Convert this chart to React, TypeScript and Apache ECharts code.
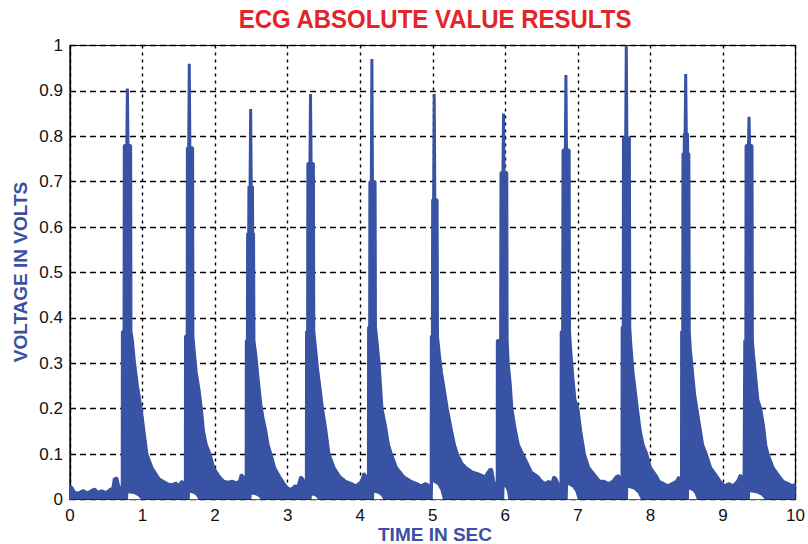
import React, { useEffect, useRef } from "react";
import * as echarts from "echarts";

// ---- data (time in s, |voltage| in V) ----
const xTicks = [0, 1, 2, 3, 4, 5, 6, 7, 8, 9, 10];
const yTicks = [0, 0.1, 0.2, 0.3, 0.4, 0.5, 0.6, 0.7, 0.8, 0.9, 1];

const lead0: [number, number][] = [
  [0, 0.03], [0.03, 0.025], [0.06, 0.016], [0.12, 0.014], [0.18, 0.02], [0.24, 0.014],
  [0.3, 0.02], [0.34, 0.023], [0.38, 0.016], [0.44, 0.019], [0.5, 0.015], [0.55, 0.022],
  [0.59, 0.025], [0.61, 0.045], [0.645, 0.048], [0.67, 0.03], [0.7, 0.022],
];
const beat1: [number, number][] = [
  [0.72, 0.022], [0.722, 0.37], [0.745, 0.37], [0.748, 0.78], [0.783, 0.78], [0.791, 0.905],
  [0.799, 0.78], [0.836, 0.78], [0.84, 0.37], [0.86, 0.35], [0.89, 0.3], [0.93, 0.25],
  [0.98, 0.2], [1.02, 0.15], [1.06, 0.1], [1.13, 0.07], [1.23, 0.045], [1.34, 0.035],
];
const gap1: [number, number][] = [
  [1.4, 0.032], [1.46, 0.036], [1.5, 0.03], [1.54, 0.04], [1.57, 0.035],
];
const beat2: [number, number][] = [
  [1.59, 0.035], [1.592, 0.36], [1.615, 0.36], [1.618, 0.775], [1.636, 0.775], [1.644, 0.96],
  [1.652, 0.775], [1.69, 0.775], [1.694, 0.36], [1.71, 0.33], [1.74, 0.28], [1.78, 0.24],
  [1.81, 0.2], [1.84, 0.15], [1.88, 0.12], [1.93, 0.1], [1.98, 0.07], [2.06, 0.05], [2.12, 0.04],
];
const gap2: [number, number][] = [
  [2.18, 0.038], [2.24, 0.04], [2.3, 0.036], [2.34, 0.042], [2.36, 0.055], [2.39, 0.05], [2.41, 0.035],
];
const beat3: [number, number][] = [
  [2.428, 0.035], [2.43, 0.35], [2.445, 0.35], [2.448, 0.586], [2.463, 0.586], [2.466, 0.69],
  [2.482, 0.69], [2.49, 0.86], [2.498, 0.69], [2.515, 0.69], [2.518, 0.586], [2.53, 0.586],
  [2.535, 0.35], [2.56, 0.32], [2.59, 0.27], [2.63, 0.21], [2.66, 0.18], [2.7, 0.15],
  [2.73, 0.12], [2.77, 0.1], [2.82, 0.07], [2.89, 0.05], [2.95, 0.035],
];
const gap3: [number, number][] = [
  [3.0, 0.025], [3.05, 0.022], [3.1, 0.03], [3.14, 0.028], [3.18, 0.05], [3.21, 0.045], [3.24, 0.03],
];
const beat4: [number, number][] = [
  [3.258, 0.03], [3.26, 0.37], [3.275, 0.37], [3.278, 0.74], [3.307, 0.74], [3.315, 0.893],
  [3.323, 0.74], [3.355, 0.74], [3.36, 0.37], [3.38, 0.34], [3.41, 0.29], [3.45, 0.24],
  [3.48, 0.2], [3.52, 0.16], [3.57, 0.1], [3.64, 0.07], [3.72, 0.05], [3.8, 0.04],
];
const gap4: [number, number][] = [
  [3.88, 0.035], [3.94, 0.03], [3.98, 0.035], [4.02, 0.04], [4.05, 0.058], [4.08, 0.05], [4.095, 0.04],
];
const beat5: [number, number][] = [
  [4.113, 0.04], [4.115, 0.38], [4.13, 0.38], [4.133, 0.7], [4.153, 0.7], [4.161, 0.97],
  [4.169, 0.7], [4.205, 0.7], [4.21, 0.38], [4.23, 0.35], [4.26, 0.3], [4.28, 0.25],
  [4.3, 0.2], [4.35, 0.16], [4.39, 0.12], [4.43, 0.1], [4.5, 0.07], [4.6, 0.05], [4.7, 0.04],
];
const gap5: [number, number][] = [
  [4.78, 0.035], [4.84, 0.03], [4.9, 0.035], [4.95, 0.03],
];
const beat6: [number, number][] = [
  [4.978, 0.03], [4.98, 0.36], [4.995, 0.36], [4.998, 0.66], [5.012, 0.66], [5.02, 0.893],
  [5.028, 0.66], [5.06, 0.66], [5.065, 0.36], [5.09, 0.32], [5.12, 0.28], [5.16, 0.24],
  [5.2, 0.2], [5.26, 0.15], [5.3, 0.12], [5.34, 0.1], [5.4, 0.08],
];
const gap6: [number, number][] = [
  [5.46, 0.07], [5.55, 0.06], [5.65, 0.055], [5.72, 0.05], [5.78, 0.065], [5.81, 0.067],
  [5.84, 0.04], [5.87, 0.03],
];
const beat7: [number, number][] = [
  [5.888, 0.03], [5.89, 0.35], [5.935, 0.35], [5.94, 0.72], [5.967, 0.72], [5.975, 0.85],
  [5.983, 0.72], [6.02, 0.72], [6.025, 0.35], [6.04, 0.3], [6.07, 0.25], [6.09, 0.2],
  [6.13, 0.16], [6.18, 0.12], [6.24, 0.1], [6.3, 0.08], [6.36, 0.06], [6.45, 0.05], [6.5, 0.04],
];
const gap7: [number, number][] = [
  [6.55, 0.035], [6.6, 0.04], [6.64, 0.035], [6.67, 0.05], [6.7, 0.045], [6.74, 0.03],
];
const beat8: [number, number][] = [
  [6.768, 0.03], [6.77, 0.37], [6.79, 0.37], [6.795, 0.77], [6.827, 0.77], [6.835, 0.935],
  [6.843, 0.77], [6.88, 0.77], [6.885, 0.37], [6.9, 0.33], [6.93, 0.27], [6.96, 0.22],
  [7.0, 0.2], [7.04, 0.15], [7.07, 0.12], [7.09, 0.1], [7.15, 0.07], [7.25, 0.05], [7.3, 0.04],
];
const gap8: [number, number][] = [
  [7.36, 0.04], [7.42, 0.035], [7.48, 0.04], [7.53, 0.05], [7.56, 0.053], [7.59, 0.035],
];
const beat9: [number, number][] = [
  [7.608, 0.035], [7.61, 0.38], [7.625, 0.38], [7.628, 0.797], [7.659, 0.797], [7.667, 1.0],
  [7.675, 0.797], [7.71, 0.797], [7.715, 0.38], [7.73, 0.34], [7.76, 0.28], [7.79, 0.24],
  [7.82, 0.2], [7.86, 0.15], [7.9, 0.12], [7.95, 0.1], [8.0, 0.07], [8.09, 0.05], [8.12, 0.04],
];
const gap9: [number, number][] = [
  [8.18, 0.035], [8.24, 0.03], [8.3, 0.035], [8.36, 0.04], [8.39, 0.05], [8.41, 0.035],
];
const beat10: [number, number][] = [
  [8.428, 0.035], [8.43, 0.37], [8.445, 0.37], [8.448, 0.762], [8.465, 0.762], [8.468, 0.806],
  [8.478, 0.806], [8.486, 0.937], [8.494, 0.806], [8.51, 0.806], [8.513, 0.762], [8.53, 0.762],
  [8.535, 0.37], [8.55, 0.33], [8.58, 0.28], [8.61, 0.23], [8.64, 0.2], [8.68, 0.16],
  [8.72, 0.12], [8.77, 0.1], [8.83, 0.07], [8.92, 0.05], [8.96, 0.04],
];
const gap10: [number, number][] = [
  [9.02, 0.03], [9.08, 0.035], [9.14, 0.03], [9.2, 0.04], [9.24, 0.054], [9.27, 0.045], [9.29, 0.035],
];
const beat11: [number, number][] = [
  [9.298, 0.035], [9.3, 0.35], [9.315, 0.35], [9.318, 0.78], [9.351, 0.78], [9.359, 0.843],
  [9.367, 0.78], [9.4, 0.78], [9.405, 0.35], [9.42, 0.32], [9.45, 0.27], [9.48, 0.22],
  [9.52, 0.2], [9.56, 0.16], [9.59, 0.12], [9.62, 0.1], [9.69, 0.07], [9.78, 0.05], [9.83, 0.04],
];
const tail11: [number, number][] = [
  [9.9, 0.035], [9.95, 0.03], [10, 0.033],
];
// white gaps where the rectified signal touches zero: [start, end, height]
const zeroGaps: [number, number, number][] = [
  [0.8, 0.98, 0.014], [1.65, 1.77, 0.015], [2.5, 2.63, 0.011], [3.33, 3.42, 0.009],
  [4.19, 4.32, 0.015], [5.0, 5.14, 0.038], [5.985, 6.04, 0.028], [6.86, 7.0, 0.032],
  [7.69, 7.87, 0.026], [8.53, 8.64, 0.022], [9.37, 9.58, 0.016],
];

const ecgData = [
  ...lead0, ...beat1, ...gap1, ...beat2, ...gap2, ...beat3, ...gap3, ...beat4, ...gap4,
  ...beat5, ...gap5, ...beat6, ...gap6, ...beat7, ...gap7, ...beat8, ...gap8, ...beat9,
  ...gap9, ...beat10, ...gap10, ...beat11, ...tail11,
];

const gapData: [number, number][] = [[0, 0]];
zeroGaps.forEach(([s, e, h]) => {
  const w = e - s;
  gapData.push([s, 0], [s + 0.004, h], [s + w * 0.45, h * 0.85], [s + w * 0.75, h * 0.55], [e, 0]);
});
gapData.push([10, 0]);

const BLUE = "#3953a4";
const FONT = "'Liberation Sans', Arial, sans-serif";

export default function App() {
  const ref = useRef<HTMLDivElement>(null);
  useEffect(() => {
    if (!ref.current) return;
    const chart = echarts.init(ref.current, undefined, { renderer: "svg" });
    chart.setOption({
      animation: false,
      backgroundColor: "#ffffff",
      grid: {
        left: 70,
        top: 45.5,
        width: 733,
        height: 454,
        show: true,
        borderColor: "#000",
        borderWidth: 1.2,
        backgroundColor: "#fff",
      },
      graphic: [
        {
          type: "text",
          x: 435,
          y: 19,
          scaleY: 1.08,
          style: {
            text: "ECG ABSOLUTE VALUE RESULTS",
            font: `bold 24px ${FONT}`,
            fill: "#e5232a",
            textAlign: "center",
            textVerticalAlign: "middle",
          },
        },
        {
          type: "text",
          x: 20,
          y: 272,
          rotation: Math.PI / 2,
          style: {
            text: "VOLTAGE IN VOLTS",
            font: `bold 19px ${FONT}`,
            fill: "#3b50a2",
            textAlign: "center",
            textVerticalAlign: "middle",
          },
        },
        {
          type: "text",
          x: 435,
          y: 534,
          style: {
            text: "TIME IN SEC",
            font: `bold 19px ${FONT}`,
            fill: "#3b50a2",
            textAlign: "center",
            textVerticalAlign: "middle",
          },
        },
      ],
      xAxis: {
        type: "value",
        min: xTicks[0],
        max: xTicks[xTicks.length - 1],
        interval: 1,
        axisLine: { show: true, onZero: false, lineStyle: { color: "#000", width: 1.2 } },
        axisTick: { show: true, inside: true, length: 5, lineStyle: { color: "#000" } },
        axisLabel: { fontSize: 17, color: "#111", fontFamily: FONT, margin: 7 },
        splitLine: {
          show: true,
          lineStyle: { color: "#000", type: [3, 4], width: 1.4 },
        },
      },
      yAxis: {
        type: "value",
        min: yTicks[0],
        max: yTicks[yTicks.length - 1],
        interval: 0.1,
        axisLine: { show: true, lineStyle: { color: "#000", width: 1.2 } },
        axisTick: { show: true, inside: true, length: 5, lineStyle: { color: "#000" } },
        axisLabel: {
          fontSize: 17,
          color: "#111",
          fontFamily: FONT,
          margin: 7,
          formatter: (v: number) =>
            Math.abs(v) < 1e-9 ? "0" : Math.abs(v - 1) < 1e-9 ? "1" : v.toFixed(1),
        },
        splitLine: {
          show: true,
          lineStyle: { color: "#000", type: [6, 4], width: 1.4 },
        },
      },
      series: [
        {
          type: "line",
          data: ecgData,
          showSymbol: false,
          symbol: "none",
          smooth: false,
          lineStyle: { color: BLUE, width: 3 },
          areaStyle: { color: BLUE, opacity: 1 },
          z: 2,
        },
        {
          type: "line",
          data: gapData,
          showSymbol: false,
          symbol: "none",
          lineStyle: { width: 0, color: "#fff" },
          areaStyle: { color: "#fff", opacity: 1 },
          z: 3,
          silent: true,
        },
      ],
    });
    return () => chart.dispose();
  }, []);
  return <div ref={ref} style={{ width: 808, height: 544, position: "absolute", left: 0, top: 0 }} />;
}
